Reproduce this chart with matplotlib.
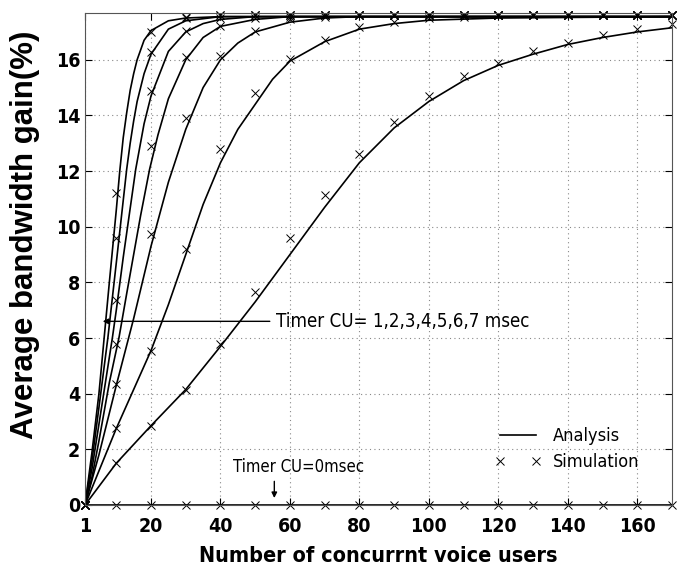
import numpy as np
import matplotlib
matplotlib.use("Agg")
import matplotlib.pyplot as plt
from matplotlib import font_manager

# simulation points (x marks)
sim_x = [1, 10, 20, 30, 40, 50, 60, 70, 80, 90, 100, 110, 120, 130, 140, 150, 160, 170]
sim_t0 = [0] * len(sim_x)
sim_t1 = [0, 1.5, 2.85, 4.15, 5.8, 7.65, 9.6, 11.15, 12.63, 13.77, 14.7, 15.4, 15.9, 16.3, 16.6, 16.9, 17.1, 17.27]
sim_t2 = [0, 2.75, 5.55, 9.2, 12.8, 14.8, 16.03, 16.7, 17.19, 17.37, 17.5, 17.55, 17.6, 17.6, 17.6, 17.6, 17.6, 17.6]
sim_t3 = [0, 4.35, 9.75, 13.9, 16.15, 17.05, 17.45, 17.55, 17.6, 17.6, 17.6, 17.6, 17.6, 17.6, 17.6, 17.6, 17.6, 17.6]
sim_t4 = [0, 5.77, 12.9, 16.1, 17.2, 17.5, 17.55, 17.6, 17.6, 17.6, 17.6, 17.6, 17.6, 17.6, 17.6, 17.6, 17.6, 17.6]
sim_t5 = [0, 7.37, 14.89, 17.05, 17.5, 17.6, 17.6, 17.6, 17.6, 17.6, 17.6, 17.6, 17.6, 17.6, 17.6, 17.6, 17.6, 17.6]
sim_t6 = [0, 9.6, 16.27, 17.5, 17.6, 17.6, 17.6, 17.6, 17.6, 17.6, 17.6, 17.6, 17.6, 17.6, 17.6, 17.6, 17.6, 17.6]
sim_t7 = [0, 11.2, 17.0, 17.55, 17.6, 17.6, 17.6, 17.6, 17.6, 17.6, 17.6, 17.6, 17.6, 17.6, 17.6, 17.6, 17.6, 17.6]

# analysis curves (solid lines)
ana_t0_x = [1, 170]
ana_t0_y = [0, 0]
ana_t1_x = [1, 10, 20, 30, 40, 50, 60, 70, 80, 90, 100, 110, 120, 130, 140, 150, 160, 170]
ana_t1_y = [0, 1.5, 2.85, 4.15, 5.7, 7.3, 9.0, 10.7, 12.3, 13.55, 14.5, 15.25, 15.8, 16.2, 16.55, 16.8, 17.0, 17.15]
ana_t2_x = [1, 10, 20, 25, 30, 35, 40, 45, 50, 55, 60, 70, 80, 90, 100, 120, 170]
ana_t2_y = [0, 2.75, 5.55, 7.2, 9.0, 10.8, 12.3, 13.5, 14.4, 15.3, 15.95, 16.65, 17.1, 17.3, 17.42, 17.5, 17.55]
ana_t3_x = [1, 5, 10, 15, 20, 25, 30, 35, 40, 45, 50, 60, 70, 80, 170]
ana_t3_y = [0, 1.8, 4.3, 6.7, 9.3, 11.6, 13.5, 15.0, 16.0, 16.6, 17.0, 17.35, 17.5, 17.55, 17.55]
ana_t4_x = [1, 3, 5, 8, 10.8, 13, 15, 17, 19.6, 22, 25, 30, 35, 40, 50, 60, 170]
ana_t4_y = [0, 1.0, 2.3, 4.4, 6.03, 7.6, 9.0, 10.4, 12.07, 13.3, 14.6, 16.0, 16.8, 17.2, 17.45, 17.55, 17.55]
ana_t5_x = [1, 3, 5, 8.9, 10, 12, 15.6, 18, 20, 25, 30, 35, 40, 50, 170]
ana_t5_y = [0, 1.3, 2.9, 6.03, 7.0, 8.9, 12.07, 13.7, 14.7, 16.3, 17.0, 17.3, 17.45, 17.55, 17.55]
ana_t6_x = [1, 3, 5, 7.6, 10, 13, 14, 15, 16, 18, 20, 25, 30, 40, 170]
ana_t6_y = [0, 1.6, 3.5, 6.03, 8.7, 12.07, 13.0, 13.8, 14.5, 15.5, 16.2, 17.1, 17.4, 17.55, 17.55]
ana_t7_x = [1, 3, 5, 6.5, 8, 10, 11, 12, 13, 14, 15, 16, 18, 20, 25, 30, 40, 170]
ana_t7_y = [0, 1.9, 4.0, 6.0, 8.0, 10.6, 12.0, 13.2, 14.1, 14.9, 15.5, 16.0, 16.7, 17.05, 17.4, 17.5, 17.55, 17.55]

x_ticks = [1, 20, 40, 60, 80, 100, 120, 140, 160]
y_ticks = [0, 2, 4, 6, 8, 10, 12, 14, 16]

# condensed font for ticks / x label / notes
cond_b = font_manager.FontProperties(family='DejaVu Sans', stretch='condensed', weight='bold')
cond_r = font_manager.FontProperties(family='DejaVu Sans', stretch='condensed')

fig = plt.figure(figsize=(6.77, 5.73), dpi=100)
ax = fig.add_axes([0.1256, 0.1187, 0.867, 0.8586])

analysis = [(ana_t0_x, ana_t0_y), (ana_t1_x, ana_t1_y), (ana_t2_x, ana_t2_y), (ana_t3_x, ana_t3_y),
            (ana_t4_x, ana_t4_y), (ana_t5_x, ana_t5_y), (ana_t6_x, ana_t6_y), (ana_t7_x, ana_t7_y)]
for i, (xs, ys) in enumerate(analysis):
    ax.plot(xs, ys, color='black', lw=1.2, label='Analysis' if i == 0 else None)

sims = [sim_t0, sim_t1, sim_t2, sim_t3, sim_t4, sim_t5, sim_t6, sim_t7]
for i, ys in enumerate(sims):
    ax.plot(sim_x, ys, ls='none', marker='x', ms=6, mew=0.7, color='black',
            label='Simulation' if i == 0 else None, clip_on=False)

ax.set_xlim(1, 170)
ax.set_ylim(0, 17.68)
ax.set_xticks(x_ticks)
ax.set_yticks(y_ticks)
ax.grid(True, ls=(0, (1, 3)), color='#888888', lw=0.8)
ax.tick_params(direction='in', top=True, right=True, length=5, width=0.8)
for lab in ax.get_xticklabels() + ax.get_yticklabels():
    lab.set_fontproperties(cond_b)
    lab.set_fontsize(14)
ax.tick_params(axis='x', pad=9)
for s in ax.spines.values():
    s.set_color('#555555')

xl = ax.set_xlabel('Number of concurrnt voice users', fontproperties=cond_b, labelpad=7)
xl.set_fontsize(15.5)
ax.set_ylabel('Average bandwidth gain(%)', family=['Liberation Sans', 'DejaVu Sans'], fontweight='bold', fontsize=22.5)
ax.yaxis.set_label_coords(-0.077, 0.549)

# annotations
ax.annotate('', xy=(5.3, 6.6), xytext=(55, 6.6),
            arrowprops=dict(arrowstyle='-|>', color='black', lw=1.0, mutation_scale=8))
t1 = ax.text(56, 6.6, 'Timer CU= 1,2,3,4,5,6,7 msec', fontproperties=cond_r, va='center', ha='left')
t1.set_fontsize(13.4)
ax.annotate('', xy=(55.5, 0.15), xytext=(55.5, 0.95),
            arrowprops=dict(arrowstyle='-|>', color='black', lw=1.0, mutation_scale=8))
t2 = ax.text(43.5, 1.35, 'Timer CU=0msec', fontproperties=cond_r, va='center', ha='left')
t2.set_fontsize(12)

leg_font = cond_r.copy()
leg_font.set_size(13)
leg = ax.legend(loc='lower left', bbox_to_anchor=(0.698, 0.069), frameon=False, numpoints=2,
                borderpad=0, borderaxespad=0, handlelength=2.6, handletextpad=0.6,
                prop=leg_font, labelspacing=0.45)

fig.savefig('out.png', dpi=100)
